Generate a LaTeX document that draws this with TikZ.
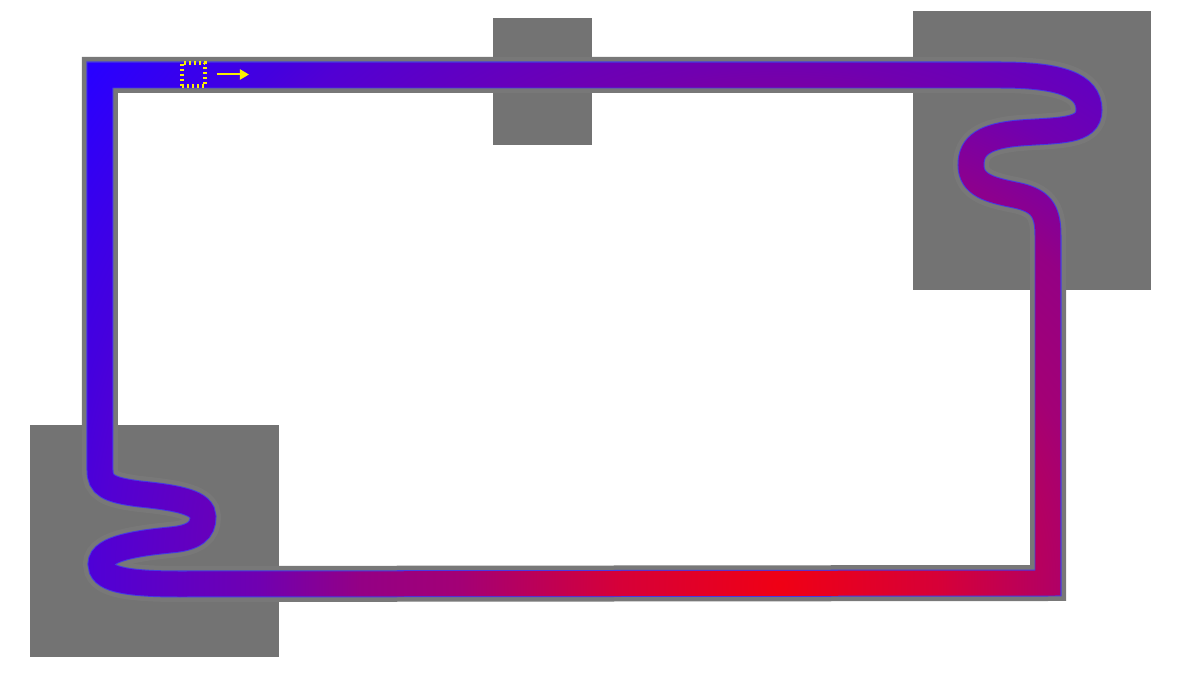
\documentclass[tikz,border=0pt]{standalone}
\usepackage{xcolor}
\usetikzlibrary{fadings}
\usetikzlibrary{arrows.meta}

\definecolor{pitgrey}{RGB}{115,115,115}
\definecolor{rimgrey}{RGB}{120,120,120}
\definecolor{rimblue}{RGB}{70,60,225}
\definecolor{markyellow}{RGB}{250,240,0}

% red where the lap is hottest, blue far from it
\pgfdeclareradialshading{lapheat}{\pgfpointorigin}{%
  rgb(0bp)=(0.94,0,0.08);
  rgb(4bp)=(0.84,0,0.22);
  rgb(8bp)=(0.64,0,0.46);
  rgb(10.5bp)=(0.58,0,0.52);
  rgb(13bp)=(0.44,0,0.69);
  rgb(17bp)=(0.32,0,0.83);
  rgb(18bp)=(0.27,0,0.87);
  rgb(21.5bp)=(0.16,0,1);
  rgb(50bp)=(0.16,0,1)}

\newcommand{\lapline}{(100,75) -- (1000,75)
  .. controls (1060,75) and (1089,85) .. (1089,110)
  .. controls (1089,132) and (1060,130) .. (1020,133)
  .. controls (985,136) and (971,145) .. (971,165)
  .. controls (971,185) and (990,190) .. (1015,195)
  .. controls (1040,200) and (1048,210) .. (1048,235)
  -- (1048,583) -- (180,584)
  .. controls (120,584) and (101,578) .. (101,564)
  .. controls (101,548) and (140,543) .. (170,540)
  .. controls (195,538) and (203,530) .. (203,517)
  .. controls (203,503) and (180,498) .. (140,494)
  .. controls (108,490) and (100,485) .. (100,470) -- cycle}

\tikzset{
  pit/.style={fill=pitgrey},
  rim/.style={draw=rimgrey, line width=18pt},
  rimedge/.style={draw=rimblue, line width=13.5pt},
  startbox/.style={draw=markyellow, line width=2pt, dash pattern=on 1pt off 1.5pt,
    minimum size=11.5pt, inner sep=0pt},
  headarrow/.style={draw=markyellow, line width=1pt, -{Triangle[length=4.5pt,width=5pt]}}
}

\begin{tikzfadingfrompicture}[name=lapfade, x=0.5pt, y=-0.5pt]
  \fill[transparent!100] (-800,-600) rectangle (800,600);
  \begin{scope}[shift={(-780,-585)}]
    \draw[transparent!0, line width=12.5pt] \lapline;
  \end{scope}
\end{tikzfadingfrompicture}

\begin{document}
\begin{tikzpicture}[x=0.5pt, y=-0.5pt]
  % the whole 1200 x 675 frame, origin at the red spot (780,585)
  \useasboundingbox (-780,-585) rectangle (420,90);
  \begin{scope}[shift={(-780,-585)}]
    \fill[pit] (493,18) rectangle (592,145);
    \fill[pit] (913,11) rectangle (1151,290);
    \fill[pit] (30,425) rectangle (279,657);
    \draw[rim] \lapline;
    \draw[rimedge] \lapline;
  \end{scope}
  % the heat colours, cut down to the track
  \shade[shading=lapheat, path fading=lapfade, fit fading=false]
    (-1000,-1000) rectangle (1000,1000);
  \begin{scope}[shift={(-780,-585)}]
    \node[startbox] (start) at (193.5,74.5) {};
    \coordinate (heading) at (249,74.5);
    \draw[headarrow] ([xshift=5pt]start.east) -- (heading);
  \end{scope}
\end{tikzpicture}
\end{document}
